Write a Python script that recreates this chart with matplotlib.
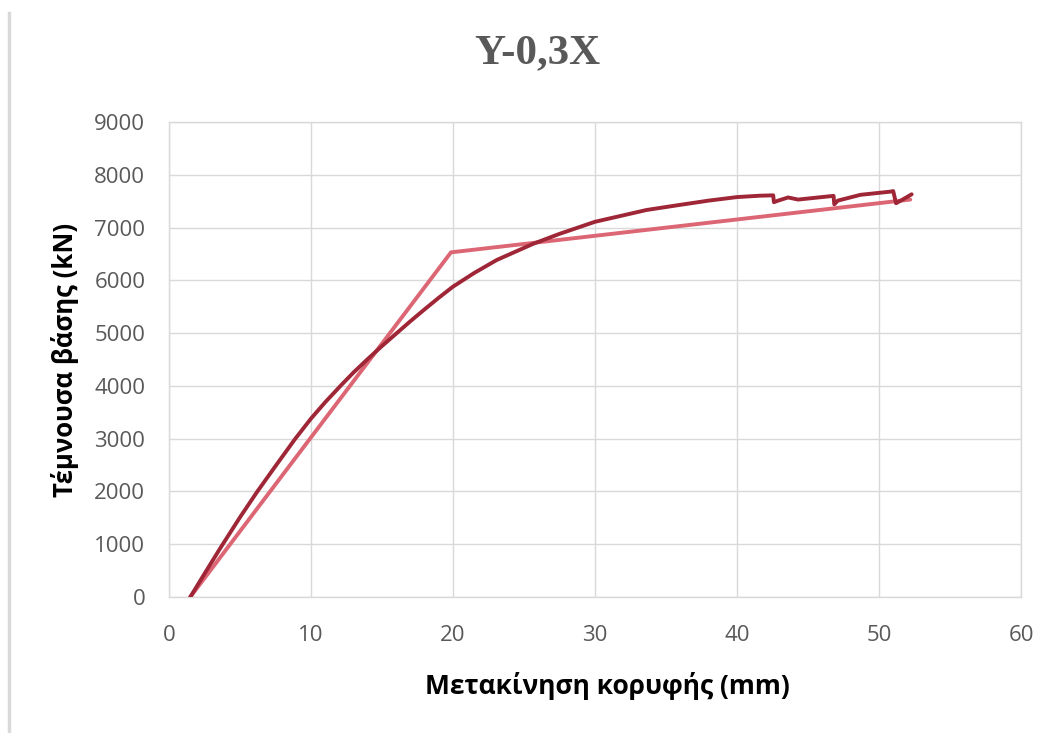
import numpy as np
import matplotlib
matplotlib.use("Agg")
import matplotlib.pyplot as plt
from matplotlib.lines import Line2D

# pushover curve (roof displacement in mm, base shear in kN)
pushover_x = [1.5, 2.5, 3.6, 5.0, 6.2, 7.5, 8.87, 10.0, 11.0, 12.15, 13.0, 14.0, 15.0,
              16.0, 17.0, 18.0, 19.0, 20.0, 21.5, 23.08, 25.65, 27.5, 30.0, 33.64,
              36.0, 38.0, 40.0, 41.6, 42.55, 42.6, 42.9, 43.6, 44.3, 46.8, 46.85,
              47.1, 48.7, 50.8, 51.0, 51.2, 51.6, 52.3]
pushover_y = [0, 440, 920, 1510, 1990, 2480, 2990, 3380, 3690, 4020, 4255, 4510, 4755,
              4990, 5225, 5450, 5670, 5880, 6140, 6385, 6692, 6880, 7109, 7333,
              7430, 7510, 7577, 7603, 7610, 7480, 7510, 7570, 7530, 7600, 7440,
              7510, 7620, 7680, 7690, 7460, 7520, 7630]

# bilinear idealisation
bilinear_x = [1.5, 19.86, 52.2]
bilinear_y = [0, 6530, 7530]

x_ticks = np.arange(0, 61, 10)
y_ticks = np.arange(0, 9001, 1000)

grid_col = '#d9d9d9'
text_col = '#595959'
sans = ['Open Sans', 'DejaVu Sans']

fig = plt.figure(figsize=(10.54, 7.33), dpi=100)
ax = fig.add_axes([0.1603, 0.1855, 0.8084, 0.6481])

ax.plot(bilinear_x, bilinear_y, color='#dc6673', linewidth=2.8, solid_capstyle='round', zorder=3)
ax.plot(pushover_x, pushover_y, color='#9e2637', linewidth=2.8, solid_capstyle='round',
        solid_joinstyle='round', zorder=4)

ax.set_xlim(0, 60)
ax.set_ylim(0, 9000)
ax.set_xticks(x_ticks)
ax.set_yticks(y_ticks)
ax.grid(True, color=grid_col, linewidth=1.0)
ax.set_axisbelow(True)
for sp in ax.spines.values():
    sp.set_color(grid_col)
    sp.set_linewidth(1.0)
ax.tick_params(length=0, labelsize=16, labelcolor=text_col)
ax.tick_params(axis='x', pad=20)
ax.tick_params(axis='y', pad=17)
for lab in ax.get_xticklabels() + ax.get_yticklabels():
    lab.set_family(sans)

ax.set_xlabel('Μετακίνηση κορυφής (mm)', family=sans, fontsize=19,
              fontweight='bold', color='black')
ax.set_ylabel('Τέμνουσα βάσης (kN)', family=sans, fontsize=18.5,
              fontweight='bold', color='black')
ax.xaxis.set_label_coords(0.514, -0.158)
ax.yaxis.set_label_coords(-0.106, 0.5)

fig.text(0.5095, 0.927, 'Y-0,3X', ha='center', va='center', family='Liberation Serif',
         fontsize=31, fontweight='bold', color=text_col)

# thin frame line on the left edge
fig.add_artist(Line2D([0.0085, 0.0085], [0.0, 0.982], color=grid_col, linewidth=2.5))

fig.savefig('out.png', dpi=100)
